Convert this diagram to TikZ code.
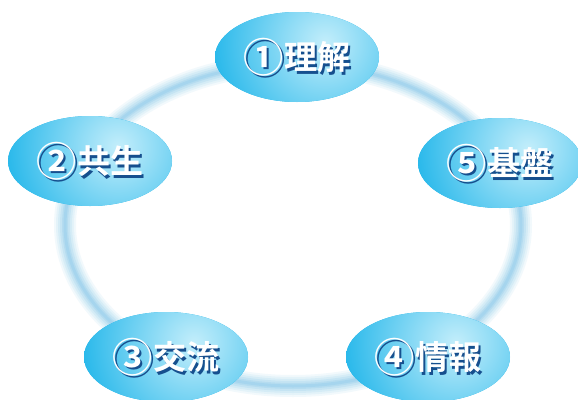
\documentclass[tikz,border=0pt]{standalone}
\usepackage{fontspec}
\newfontfamily\cjk{Noto Sans CJK JP}[BoldFont={* Bold}]
\usetikzlibrary{calc,shapes.geometric}
\definecolor{ringc}{HTML}{86C8EA}
\definecolor{basec}{HTML}{10B0E8}
\definecolor{lightc}{HTML}{C4EEFB}
\definecolor{shadc}{HTML}{164F8E}
\tikzset{
  bub/.style={ellipse, minimum width=164pt, minimum height=90pt, fill=basec,
    path picture={\shade[inner color=lightc, outer color=basec]
      ($(path picture bounding box.center)+(28pt,14pt)$) circle (130pt);}},
  lbl/.style={text=white, font=\cjk\bfseries\fontsize{33}{33}\selectfont, inner sep=0pt},
  lblsh/.style={text=shadc, font=\cjk\bfseries\fontsize{33}{33}\selectfont, inner sep=0pt},
}
\begin{document}
\begin{tikzpicture}[x=1pt,y=-1pt]
\useasboundingbox (0,0) rectangle (578,399);
\fill[white] (0,0) rectangle (578,399);
% glowing ring
\coordinate (rc) at (293,225);
\foreach \w/\o in {22/0.10,18/0.12,14/0.15,10/0.2,6/0.25,3/0.3}
  \draw[ringc, line width=\w pt, opacity=\o] (rc) ellipse [x radius=228pt, y radius=161pt];
% bubbles
\node[bub] (e1) at (297,57) {};
\node[bub] (e2) at (90,161) {};
\node[bub] (e5) at (500,163) {};
\node[bub] (e3) at (166,357) {};
\node[bub] (e4) at (428,357) {};
% labels
\foreach \n/\d/\t in {e1/①/理解, e2/②/共生, e5/⑤/基盤, e3/③/交流, e4/④/情報}{
  \node[lblsh] (s\n) at ($(\n)+(2pt,-2.5pt)$) {\raisebox{-0.08em}{\scalebox{1.22}{\d}}\t};
  \node[lbl] (t\n) at (\n) {\raisebox{-0.08em}{\scalebox{1.22}{\d}}\t};
}
\end{tikzpicture}
\end{document}
